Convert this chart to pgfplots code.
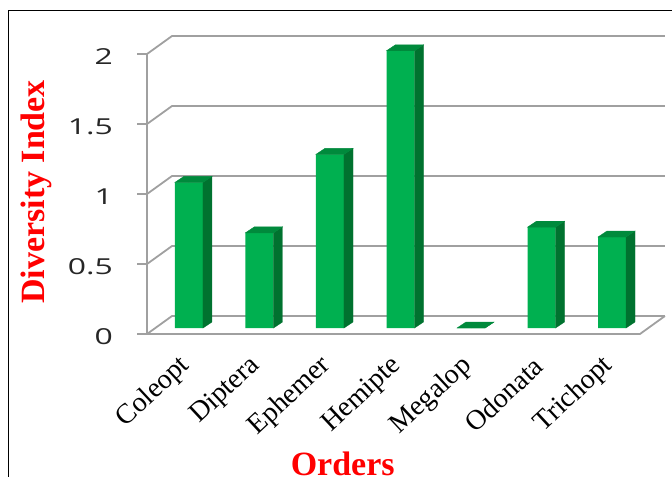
\documentclass[border=0pt]{standalone}
\usepackage{fontspec}
\setmainfont{Liberation Serif}
\newfontfamily\tickfont{Open Sans}
\usepackage{graphicx}
\usepackage{pgfplots}
\usepackage{pgfplotstable}
\pgfplotsset{compat=1.18}
\definecolor{frontg}{HTML}{00B050}
\definecolor{sideg}{HTML}{00722F}
\definecolor{topg}{HTML}{008A3C}
\definecolor{gridg}{HTML}{A0A0A0}

\pgfplotstableread{
idx name value
0 Coleopt 1.04
1 Diptera 0.68
2 Ephemer 1.24
3 Hemipte 1.98
4 Megalop 0
5 Odonata 0.72
6 Trichopt 0.65
}\datatable

\begin{document}
\begin{tikzpicture}
\useasboundingbox (-189bp,-149bp) rectangle (483bp,328bp);
\draw[black, line width=0.9pt] (-181bp,-200bp) -- (-181bp,318bp) -- (520bp,318bp);
\begin{axis}[
  at={(0,0)}, anchor=origin,
  x=70.5bp, y=140bp,
  xmin=-0.482, xmax=6.51, ymin=0, ymax=2,
  clip=false,
  axis line style={draw=none},
  major tick style={draw=none},
  xtick={0,1,2,3,4,5,6},
  xticklabels from table={\datatable}{name},
  ytick={0,0.5,1,1.5,2},
  /pgf/number format/assume math mode=true,
  yticklabel={\scalebox{1.45}[1]{\tickfont\pgfmathprintnumber{\tick}}},
  yticklabel style={anchor=east, inner sep=0pt, xshift=-42bp, yshift=-9bp, font=\fontsize{22bp}{22bp}\selectfont, text=black!85},
  xticklabel style={inner sep=0pt, xshift=-3bp, yshift=-34bp, rotate=43, anchor=east, font=\fontsize{28bp}{28bp}\selectfont},
  xlabel={Orders}, ylabel={Diversity Index},
  xlabel style={at={(axis description cs:0.3807,-0.525)}, anchor=base, font=\fontsize{34bp}{34bp}\selectfont\bfseries, text=red},
  ylabel style={at={(axis description cs:-0.2414,0.486)}, anchor=center, font=\fontsize{34bp}{34bp}\selectfont\bfseries, text=red},
]
% frame: front axis, ticks, diagonals, back-wall gridlines
\pgfplotsinvokeforeach{0,0.5,1,1.5,2}{
  \draw[gridg, line width=1.8bp] ([shift={(-8bp,-6bp)}]axis cs:-0.482,#1) -- ++(-10bp,0pt);
  \draw[gridg, line width=1.8bp] ([shift={(-8bp,-6bp)}]axis cs:-0.482,#1) -- ([shift={(17bp,12bp)}]axis cs:-0.482,#1) -- ([shift={(17bp,12bp)}]axis cs:6.51,#1);
}
\draw[gridg, line width=1.8bp] ([shift={(-8bp,-6bp)}]axis cs:-0.482,0) -- ([shift={(-8bp,-6bp)}]axis cs:-0.482,2);
\draw[gridg, line width=1.8bp] ([shift={(-8bp,-6bp)}]axis cs:-0.482,0) -- ([shift={(-8bp,-6bp)}]axis cs:6.51,0) -- ([shift={(17bp,12bp)}]axis cs:6.51,0);

% front faces
\addplot[ybar, bar width=28bp, bar shift=0pt, fill=frontg, draw=none] table[x=idx, y=value] {\datatable};
% side and top faces
\addplot[
  scatter, only marks, mark=*, mark size=0pt,
  mark options={draw=none, fill=none},
  visualization depends on={\thisrow{value}\as\val},
  scatter/@pre marker code/.code={
    \pgfmathsetlengthmacro\hh{\val*140bp}
    \fill[sideg] (14bp,0bp) -- (23bp,6bp) -- (23bp,{6bp-\hh}) -- (14bp,{-\hh}) -- cycle;
    \fill[topg] (-14bp,0bp) -- (14bp,0bp) -- (23bp,6bp) -- (-5bp,6bp) -- cycle;
  },
  scatter/@post marker code/.code={},
] table[x=idx, y=value] {\datatable};
\end{axis}
\end{tikzpicture}
\end{document}
